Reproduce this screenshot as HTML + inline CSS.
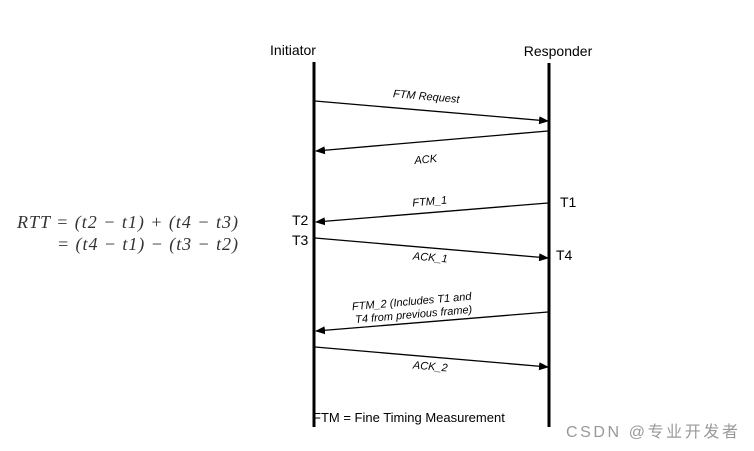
<!DOCTYPE html>
<html><head><meta charset="utf-8"><style>
html,body{margin:0;padding:0;background:#fff;width:754px;height:451px;overflow:hidden}
svg{display:block}
.s{font-family:"Liberation Sans",sans-serif;fill:#000}
.m{font-family:"Liberation Serif",serif;font-style:italic;font-size:18px;fill:#333}
</style></head><body>
<svg width="754" height="451" viewBox="0 0 754 451" xmlns="http://www.w3.org/2000/svg">
<defs><marker id="a" markerWidth="10" markerHeight="8" refX="9" refY="4" orient="auto" markerUnits="userSpaceOnUse"><path d="M0,0 L10,4 L0,8 z" fill="#000"/></marker></defs>
<line x1="314" y1="62" x2="314" y2="427" stroke="#000" stroke-width="3"/>
<line x1="549" y1="63" x2="549" y2="427" stroke="#000" stroke-width="3"/>
<text class="s" x="293" y="55" font-size="14" text-anchor="middle">Initiator</text>
<text class="s" x="558" y="56" font-size="14" text-anchor="middle">Responder</text>
<g stroke="#000" stroke-width="1.3" marker-end="url(#a)">
<line x1="315" y1="101" x2="548" y2="121"/>
<line x1="548" y1="131" x2="316" y2="151"/>
<line x1="548" y1="203" x2="316" y2="222"/>
<line x1="315" y1="238" x2="548" y2="258"/>
<line x1="548" y1="312" x2="316" y2="331"/>
<line x1="315" y1="347" x2="548" y2="367"/>
</g>
<g class="s" font-size="11" font-style="italic">
<text x="426" y="100" text-anchor="middle" transform="rotate(5 426 100)">FTM Request</text>
<text x="426" y="163" text-anchor="middle" transform="rotate(-5 426 163)">ACK</text>
<text x="430" y="205" text-anchor="middle" transform="rotate(-5 430 205)">FTM_1</text>
<text x="430" y="261" text-anchor="middle" transform="rotate(5 430 261)">ACK_1</text>
<text x="412" y="305" text-anchor="middle" transform="rotate(-5 412 305)">FTM_2 (Includes T1 and</text>
<text x="414" y="318" text-anchor="middle" transform="rotate(-5 414 318)">T4 from previous frame)</text>
<text x="430" y="370" text-anchor="middle" transform="rotate(5 430 370)">ACK_2</text>
</g>
<g class="s" font-size="14">
<text x="560" y="207">T1</text>
<text x="292" y="225">T2</text>
<text x="292" y="245">T3</text>
<text x="556" y="260">T4</text>
</g>
<text class="s" x="313" y="422" font-size="13">FTM = Fine Timing Measurement</text>
<text class="m" x="17" y="228" textLength="221" lengthAdjust="spacing">RTT = (t2 − t1) + (t4 − t3)</text>
<text class="m" x="57" y="250" textLength="181" lengthAdjust="spacing">= (t4 − t1) − (t3 − t2)</text>
<text x="566" y="437" font-size="16" fill="#999" textLength="172" lengthAdjust="spacing" font-family="'Liberation Sans','Noto Sans CJK SC',sans-serif">CSDN @专业开发者</text>
</svg>
</body></html>
